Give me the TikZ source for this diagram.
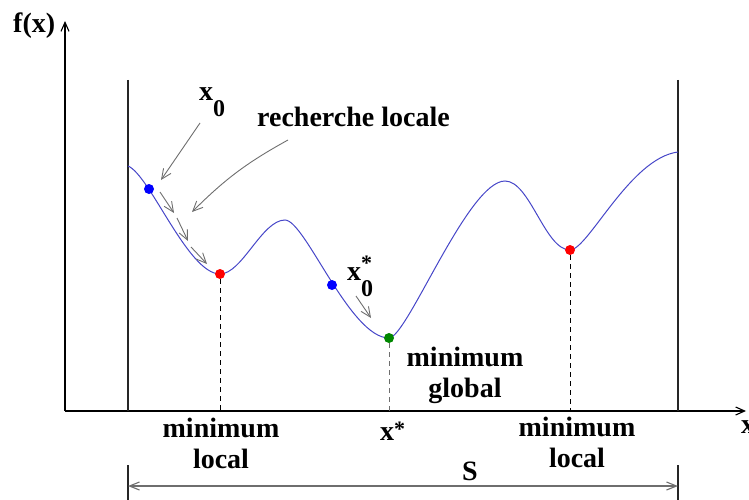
\documentclass[tikz,border=0pt]{standalone}
\usepackage{fontspec}
\setmainfont{Liberation Serif}
\usetikzlibrary{positioning, arrows.meta, calc}
\definecolor{curveblue}{RGB}{70,70,200}
\definecolor{hintgray}{RGB}{110,110,110}
\definecolor{mingreen}{RGB}{0,135,0}
\newcommand{\lowsub}[1]{\raisebox{-16pt}{\fontsize{24}{24}\selectfont #1}}
\newcommand{\highstar}{\raisebox{4pt}{\fontsize{22}{22}\selectfont *}}
\tikzset{
    dot/.style={
        circle,
        inner sep=0pt,
        minimum size=10pt
    },
    bluedot/.style={
        dot,
        fill=blue
    },
    reddot/.style={
        dot,
        fill=red
    },
    greendot/.style={
        dot,
        fill=mingreen
    },
    axis/.style={
        line width=1.1pt,
        -{Straight Barb[length=9pt,width=8pt]}
    },
    bound/.style={
        line width=1.1pt,
        black!85
    },
    hint/.style={
        hintgray,
        line width=0.9pt,
        -{Straight Barb[length=10pt,width=9pt]}
    },
    drop/.style={
        dash pattern=on 5pt off 4pt,
        line width=1pt
    },
    txt/.style={
        font=\fontsize{28}{31}\selectfont\bfseries,
        inner sep=0pt
    }
}

\begin{document}
\begin{tikzpicture}[x=1pt, y=-1pt]

\useasboundingbox (0,0) rectangle (749,500);

%---------------- Axes ----------------

\coordinate (O) at (65,411);
\coordinate (ytip) at (65,21);
\coordinate (xtip) at (746,411);

\draw[axis] (O) -- (ytip);
\draw[axis] (O) -- (xtip);

\node[txt, anchor=base west] (fx) at (13,33) {f(x)};
\node[txt, anchor=base west] (xlab) at (741,433) {x};

%---------------- Domain S ----------------

\coordinate (bl) at (128,80);
\coordinate (br) at (678,80);
\coordinate (sl) at (128,465);
\coordinate (sr) at (678,465);
\coordinate (sle) at (128,500);
\coordinate (sre) at (678,500);

\draw[bound] (bl) -- (bl |- O);
\draw[bound] (br) -- (br |- O);
\draw[bound] (sl) -- (sle);
\draw[bound] (sr) -- (sre);
\draw[hintgray, line width=1.1pt, {Straight Barb[length=10pt,width=8pt]}-{Straight Barb[length=10pt,width=8pt]}]
    ($(sl)!0.6!(sle)$) -- ($(sr)!0.6!(sre)$);

\node[txt, anchor=base] (S) at (470,480) {S};

%---------------- Function ----------------

\draw[curveblue, line width=1pt] (128,166)
    .. controls (150,175) and (188,274) .. (220,274)
    .. controls (242,274) and (262,220) .. (285,220)
    .. controls (305,220) and (350,338) .. (389,338)
    .. controls (407,338) and (468,181) .. (505,181)
    .. controls (530,181) and (545,250) .. (570,250)
    .. controls (588,250) and (630,158) .. (678,152);

%---------------- Minima ----------------

\node[reddot] (m1) at (220,274) {};
\node[greendot] (mg) at (389,338) {};
\node[reddot] (m2) at (570,250) {};

\draw[drop] (m1) -- (m1 |- O);
\draw[drop, hintgray] (mg) -- (mg |- O);
\draw[drop] (m2) -- (m2 |- O);

\node[txt, align=center, anchor=base] (loc1) at (221,468) {minimum\\local};
\node[txt, align=center, anchor=base] (glob) at (465,397) {minimum\\global};
\node[txt, align=center, anchor=base] (loc2) at (577,467) {minimum\\local};
\node[txt, anchor=base west] (xs) at (380,440) {x\highstar};

%---------------- Starting points ----------------

\node[bluedot] (s1) at (149,189) {};
\node[bluedot] (s2) at (332,285) {};

\node[txt, anchor=base west] (x0) at (199,101) {x\lowsub{0}};
\node[txt, anchor=base west] (x0s) at (347,280)
    {x\rlap{\raisebox{10pt}{\fontsize{22}{22}\selectfont *}}\lowsub{0}};
\node[txt, anchor=base west] (rl) at (257,127) {recherche locale};

%---------------- Descent arrows ----------------

\coordinate (a0) at (200,123);
\coordinate (a1) at (161,180);
\draw[hint] (a0) -- (a1);

\coordinate (r0) at (288,140);
\coordinate (r1) at (192,212);
\draw[hint] (r0) to[bend right=8] (r1);

\coordinate (d1) at (160,192);
\coordinate (d2) at (174,213);
\coordinate (d3) at (177,218);
\coordinate (d4) at (188,241);
\coordinate (d5) at (191,247);
\coordinate (d6) at (207,264);
\draw[hint] (d1) -- (d2);
\draw[hint] (d3) -- (d4);
\draw[hint] (d5) -- (d6);

\coordinate (g0) at (356,296);
\coordinate (g1) at (371,318);
\draw[hint] (g0) -- (g1);

\end{tikzpicture}
\end{document}
